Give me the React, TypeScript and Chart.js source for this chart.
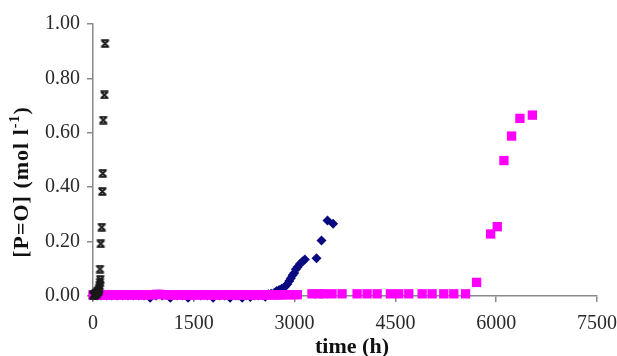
import React, { useEffect, useRef } from 'react';
import { Chart, registerables } from 'chart.js';

Chart.register(...registerables);

// axis ticks
const xTickValues = [0, 1500, 3000, 4500, 6000, 7500];
const yTickValues = [0, 0.2, 0.4, 0.6, 0.8, 1.0];

// black "x" series (early, fast)
const blackTime = [5, 12, 20, 28, 36, 44, 52, 60, 68, 76, 84, 92, 100, 104, 108, 104, 115, 130, 139, 145, 153, 170, 179];
const blackValue = [0.002, 0.004, 0.003, 0.006, 0.008, 0.005, 0.010, 0.012, 0.015, 0.018, 0.022, 0.028, 0.037, 0.050, 0.061, 0.099, 0.192, 0.253, 0.384, 0.451, 0.647, 0.739, 0.928];

// navy diamond series
const blueTime = [0, 60, 120, 200, 280, 360, 440, 520, 600, 680, 760, 850, 940, 1030, 1150, 1250, 1330, 1416, 1500, 1600, 1700, 1788, 1880, 1960, 2040, 2120, 2160, 2220, 2280, 2340, 2400, 2460, 2520, 2563, 2610, 2650,
  2700, 2733, 2770, 2807, 2856, 2891, 2921, 2945, 2970, 2995, 3019, 3045, 3079, 3118, 3153, 3326, 3400, 3490, 3573];
const blueValue = [0.002, 0.002, 0.002, 0.002, 0.002, 0.002, 0.002, 0.002, 0.002, 0.002, 0.002, -0.006, 0.002, 0.002, -0.006, 0.002, 0.002, -0.006, 0.002, 0.002, 0.002, -0.006, 0.002, 0.002, -0.006, 0.002, 0.002, -0.006, 0.002, -0.004, 0.002, 0.002, 0.003, -0.003, 0.006, 0.008,
  0.012, 0.018, 0.022, 0.027, 0.034, 0.043, 0.055, 0.065, 0.076, 0.085, 0.098, 0.107, 0.118, 0.127, 0.134, 0.139, 0.204, 0.278, 0.266];

// magenta square series
const pinkTime = [0, 30, 60, 90, 130, 170, 210, 250, 300, 350, 400, 450, 500, 550, 600, 650, 700, 750, 800, 850, 900, 950, 1000, 1050, 1100, 1150, 1200, 1250, 1300, 1350, 1400, 1450, 1500, 1550, 1600, 1650, 1700, 1750, 1800, 1850, 1900, 1950, 2000, 2050, 2100, 2150, 2200, 2250, 2300, 2350, 2400, 2450, 2500, 2550, 2600, 2650, 2700, 2750, 2800, 2860, 2900, 2950, 3000, 3040,
  3259, 3358, 3432, 3557, 3706, 3930, 4079, 4228, 4426, 4550, 4699, 4898, 5046, 5220, 5369, 5544, 5708, 5917, 6016, 6115, 6229, 6353, 6538];
const pinkValue = [0.004, 0.004, 0.004, 0.004, 0.004, 0.004, 0.004, 0.004, 0.004, 0.004, 0.004, 0.004, 0.004, 0.004, 0.004, 0.004, 0.004, 0.004, 0.004, 0.004, 0.005, 0.006, 0.006, 0.005, 0.004, 0.004, 0.004, 0.004, 0.004, 0.004, 0.004, 0.004, 0.004, 0.004, 0.004, 0.004, 0.004, 0.004, 0.004, 0.004, 0.004, 0.004, 0.005, 0.004, 0.004, 0.004, 0.004, 0.004, 0.004, 0.004, 0.004, 0.004, 0.004, 0.004, 0.004, 0.004, 0.004, 0.004, 0.004, 0.005, 0.005, 0.005, 0.005, 0.005,
  0.008, 0.008, 0.008, 0.008, 0.008, 0.008, 0.008, 0.008, 0.008, 0.008, 0.008, 0.008, 0.008, 0.008, 0.008, 0.008, 0.050, 0.228, 0.255, 0.498, 0.588, 0.653, 0.665];

const yTitleMain = '[P=O] (mol l';
const yTitleSup = '-1';
const yTitleEnd = ')';
const xTitle = 'time (h)';

function makeHourglass(): HTMLCanvasElement {
  const c = document.createElement('canvas');
  c.width = 11;
  c.height = 9;
  const g = c.getContext('2d')!;
  g.strokeStyle = '#1a1a1a';
  g.lineWidth = 1.9;
  g.beginPath();
  g.moveTo(1.5, 1.3); g.lineTo(9.5, 1.3);
  g.moveTo(1.5, 7.7); g.lineTo(9.5, 7.7);
  g.moveTo(2, 1.3); g.lineTo(9, 7.7);
  g.moveTo(9, 1.3); g.lineTo(2, 7.7);
  g.stroke();
  return c;
}

const titlesPlugin = {
  id: 'titlesPlugin',
  afterDraw(chart: any) {
    const ctx = chart.ctx as CanvasRenderingContext2D;
    const area = chart.chartArea;
    ctx.save();
    ctx.fillStyle = '#111';
    ctx.textBaseline = 'middle';
    const mainFont = 'bold 22px "Liberation Serif", serif';
    const supFont = 'bold 14px "Liberation Serif", serif';
    (ctx as any).letterSpacing = '1px';
    ctx.font = mainFont;
    const w1 = ctx.measureText(yTitleMain).width;
    const w3 = ctx.measureText(yTitleEnd).width;
    ctx.font = supFont;
    const w2 = ctx.measureText(yTitleSup).width;
    const total = w1 + w2 + w3;
    const cy = (area.top + area.bottom) / 2 + 22;
    ctx.translate(22, cy);
    ctx.rotate(-Math.PI / 2);
    let x = -total / 2;
    ctx.textAlign = 'left';
    ctx.font = mainFont;
    ctx.fillText(yTitleMain, x, 0);
    x += w1;
    ctx.font = supFont;
    ctx.fillText(yTitleSup, x, -7);
    x += w2;
    ctx.font = mainFont;
    ctx.fillText(yTitleEnd, x, 0);
    ctx.restore();

    ctx.save();
    ctx.fillStyle = '#111';
    ctx.font = 'bold 22px "Liberation Serif", serif';
    ctx.textAlign = 'center';
    ctx.textBaseline = 'alphabetic';
    ctx.fillText(xTitle, (area.left + area.right) / 2 + 7, 353);
    ctx.restore();
  },
};

export default function App() {
  const canvasRef = useRef<HTMLCanvasElement | null>(null);

  useEffect(() => {
    const canvas = canvasRef.current;
    if (!canvas) return;
    const hourglass = makeHourglass();
    const toPts = (t: number[], v: number[]) => t.map((x, i) => ({ x, y: v[i] }));
    const chart = new Chart(canvas, {
      type: 'scatter',
      data: {
        datasets: [
          {
            label: 'A',
            data: toPts(blackTime, blackValue),
            pointStyle: hourglass as any,
            pointRadius: 5,
            backgroundColor: '#1a1a1a',
            borderColor: '#1a1a1a',
            order: 0,
            clip: false as any,
          },
          {
            label: 'C',
            data: toPts(pinkTime, pinkValue),
            pointStyle: 'rect',
            pointRadius: 6.6,
            borderWidth: 0,
            backgroundColor: '#ff00ff',
            borderColor: '#ff00ff',
            order: 1,
            clip: false as any,
          },
          {
            label: 'B',
            data: toPts(blueTime, blueValue),
            pointStyle: 'rectRot',
            pointRadius: 5,
            borderWidth: 0,
            backgroundColor: '#0a0a80',
            borderColor: '#0a0a80',
            order: 2,
            clip: false as any,
          },
        ],
      },
      options: {
        responsive: false,
        animation: false,
        devicePixelRatio: 1,
        layout: { padding: { top: 24, right: 20, bottom: 0, left: 0 } },
        plugins: {
          legend: { display: false },
          tooltip: { enabled: false },
        },
        scales: {
          x: {
            type: 'linear',
            min: 0,
            max: 7500,
            afterBuildTicks: (scale: any) => {
              scale.ticks = xTickValues.map((v) => ({ value: v }));
            },
            afterFit: (scale: any) => {
              scale.height = 60;
              scale.paddingRight = 0;
              scale.paddingLeft = 0;
            },
            ticks: {
              color: '#2a2a2a',
              font: { family: '"Liberation Serif", serif', size: 20 },
              padding: 10,
              maxRotation: 0,
              callback: (v: any) => String(v),
            },
            grid: {
              display: true,
              drawOnChartArea: false,
              drawTicks: true,
              tickLength: 6,
              color: '#8a8a8a',
              lineWidth: 1.5,
            },
            border: { display: true, color: '#8a8a8a', width: 1.5 },
          },
          y: {
            type: 'linear',
            min: 0,
            max: 1,
            afterBuildTicks: (scale: any) => {
              scale.ticks = yTickValues.map((v) => ({ value: v }));
            },
            afterFit: (scale: any) => {
              scale.width = 93;
              scale.paddingTop = 0;
              scale.paddingBottom = 0;
            },
            ticks: {
              color: '#2a2a2a',
              font: { family: '"Liberation Serif", serif', size: 20 },
              padding: 7,
              callback: (v: any) => Number(v).toFixed(2),
            },
            grid: {
              display: true,
              drawOnChartArea: false,
              drawTicks: true,
              tickLength: 6,
              color: '#8a8a8a',
              lineWidth: 1.5,
            },
            border: { display: true, color: '#8a8a8a', width: 1.5 },
          },
        },
      },
      plugins: [titlesPlugin],
    });
    return () => chart.destroy();
  }, []);

  return (
    <div style={{ position: 'fixed', left: 0, top: 0, width: 617, height: 356, background: '#fff' }}>
      <canvas ref={canvasRef} width={617} height={356} style={{ width: 617, height: 356, display: 'block' }} />
    </div>
  );
}
